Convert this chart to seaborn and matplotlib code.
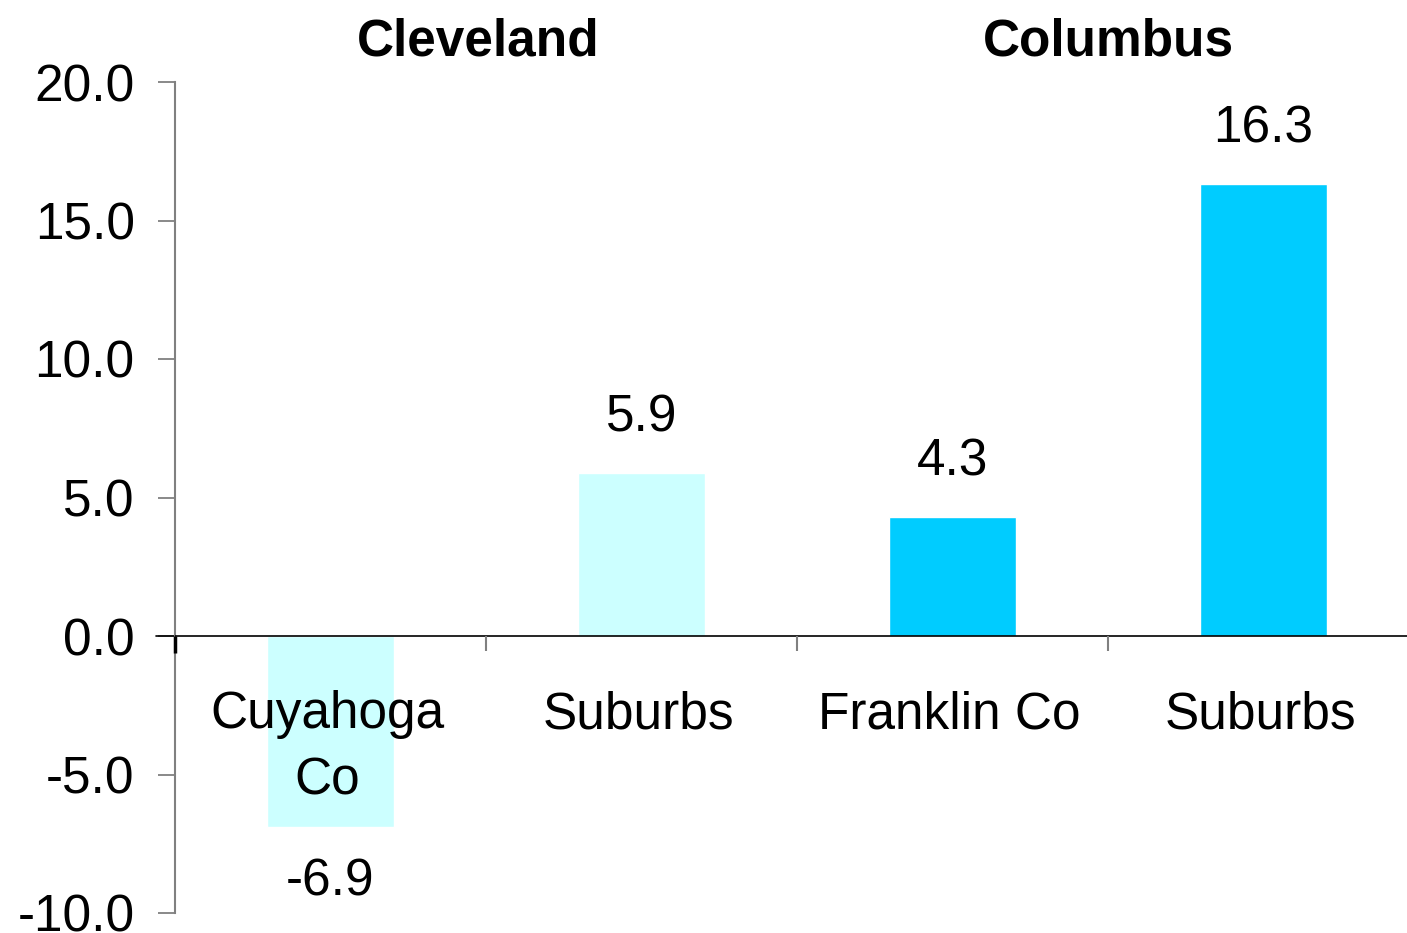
import pandas as pd
import seaborn as sns
import matplotlib.pyplot as plt

# data
areas = ["Cuyahoga Co", "Cleveland Suburbs", "Franklin Co", "Columbus Suburbs"]
labels = ["Cuyahoga\nCo", "Suburbs", "Franklin Co", "Suburbs"]
cities = ["Cleveland", "Cleveland", "Columbus", "Columbus"]
values = [-6.9, 5.9, 4.3, 16.3]
city_colors = {"Cleveland": "#CCFFFF", "Columbus": "#00CCFF"}


def main():
    sns.set_style("white")
    plt.rcParams["font.family"] = ["Liberation Sans", "DejaVu Sans"]
    plt.rcParams["axes.unicode_minus"] = False
    plt.rcParams["text.color"] = "black"
    plt.rcParams["ytick.labelcolor"] = "black"

    df = pd.DataFrame({"area": areas, "city": cities, "value": values})

    fig = plt.figure(figsize=(14.07, 9.33), dpi=100)
    ax = fig.add_axes([175 / 1407, 1 - 913 / 933, 1244 / 1407, 831 / 933])

    sns.barplot(df, x="area", y="value", hue="city", palette=city_colors,
                order=areas, dodge=False, width=0.41, legend=False, ax=ax,
                saturation=1)

    ax.set_xlim(-0.5, 3.5)
    ax.set_ylim(-10, 20)
    ax.set_yticks([-10, -5, 0, 5, 10, 15, 20])
    ax.set_yticklabels([f"{t:.1f}" for t in ax.get_yticks()], color="black")
    ax.tick_params(axis="y", labelsize=37, length=12, width=1.3,
                   color="#808080", pad=17, left=True)
    ax.set_xticks([])
    ax.set_xlabel("")
    ax.set_ylabel("")

    for s in ["top", "right", "bottom"]:
        ax.spines[s].set_visible(False)
    ax.spines["left"].set_color("#808080")
    ax.spines["left"].set_linewidth(1.5)

    # zero line and category separators
    ax.axhline(0, color="black", lw=1.2, zorder=3)
    ax.plot([-0.56, -0.5], [0, 0], color="black", lw=1.2, clip_on=False)
    ax.vlines([0.5, 1.5, 2.5], -0.55, 0, color="#808080", lw=1.5, zorder=3)
    ax.vlines([-0.5], -0.6, 0, color="black", lw=2.5, zorder=3, clip_on=False)

    # value labels
    for i, v in enumerate(values):
        off = 22 if v >= 0 else -22
        ax.annotate(f"{v:.1f}", (i, v), xytext=(0, off),
                    textcoords="offset points", ha="center",
                    va="bottom" if v >= 0 else "top", fontsize=37)

    # category labels just under the zero line
    for i, lab in enumerate(labels):
        ax.annotate(lab, (i - 0.01, 0), xytext=(0, -39),
                    textcoords="offset points", ha="center", va="top",
                    fontsize=37, linespacing=1.45)

    # city headers
    for x, c in [(0.475, "Cleveland"), (2.5, "Columbus")]:
        fig.text((175 + (x + 0.5) * 311) / 1407, 1 - 55 / 933, c,
                 ha="center", va="baseline", fontsize=37, fontweight="bold")

    fig.savefig("out.png", dpi=100)
    plt.close(fig)


if __name__ == "__main__":
    main()
